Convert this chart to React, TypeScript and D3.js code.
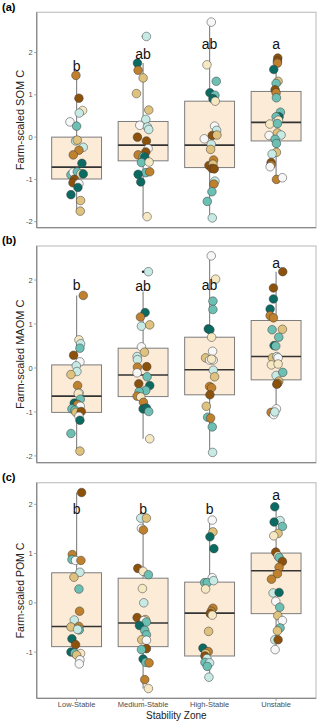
import * as d3 from 'd3'

const zones = ['Low-Stable', 'Medium-Stable', 'High-Stable', 'Unstable']
const letterFont = 'Liberation Sans, Arial, sans-serif'

// fill for each farm, BrBG-like
const palette = ['#8c510a', '#bf812d', '#dfc27d', '#f6e8c3', '#f7f7f7', '#c7eae5', '#6bbfb3', '#0b6b62']

// points: [value, jitter (category steps), colour index]
const somLow = [[1.46,-0.01,1],[0.92,0.035,0],[0.63,0.09,3],[0.57,0.04,5],[0.36,-0.1,4],[0.26,0,6],[-0.09,-0.015,5],[-0.07,0.01,2],[-0.24,0.1,5],[-0.31,0.035,1],[-0.42,-0.05,1],[-0.62,0.08,7],[-0.89,-0.085,6],[-0.83,-0.05,4],[-0.82,0.01,6],[-0.87,0.065,3],[-0.87,0.1,7],[-1.0,-0.035,0],[-1.08,-0.055,0],[-1.1,0.035,4],[-1.19,0.02,7],[-1.36,-0.085,7],[-1.5,0.06,2],[-1.75,0.055,2]]
const somMed = [[2.38,0.05,5],[1.75,-0.085,7],[1.58,-0.075,1],[1.4,0,2],[1.03,-0.1,2],[0.64,0.085,2],[0.42,0.04,5],[0.28,-0.05,4],[0.24,0.065,5],[0.18,0.085,5],[0.0,-0.085,0],[-0.09,0.05,0],[-0.27,0.075,4],[-0.35,0.04,0],[-0.42,-0.075,1],[-0.46,0,6],[-0.47,0.025,7],[-0.6,-0.025,6],[-0.59,0.09,3],[-0.84,0.04,6],[-0.82,0.1,1],[-0.88,-0.075,7],[-1.06,-0.035,7],[-1.88,0.06,3]]
const somHigh = [[2.72,0.025,4],[1.71,-0.04,3],[1.32,0.1,6],[1.05,0.005,7],[0.99,0.08,6],[0.91,0.05,7],[0.85,0.085,3],[0.26,0.075,4],[0.16,0.105,5],[-0.04,-0.08,4],[0.04,0.04,0],[0.05,0.11,2],[-0.17,0.025,5],[-0.29,0.015,2],[-0.54,0.06,1],[-0.67,-0.01,0],[-0.64,0.05,2],[-0.74,0.035,0],[-0.75,0.07,0],[-1.04,0.08,5],[-1.11,0.065,1],[-1.29,0.035,6],[-1.52,-0.035,6],[-1.91,0.04,5]]
const somUnst = [[1.87,0.025,0],[1.8,0.02,0],[1.75,0.02,1],[1.6,-0.035,7],[1.32,0.03,2],[1.27,0,6],[1.12,-0.015,0],[1.05,0,1],[0.93,0.005,6],[0.59,0.065,6],[0.48,0.045,7],[0.48,0,6],[0.36,0,5],[0.31,-0.095,3],[0.4,0.035,3],[0.32,0.02,6],[0.04,-0.105,4],[0.1,0.02,2],[0.05,0.075,5],[-0.05,-0.015,6],[-0.15,0.005,6],[-0.36,0.005,2],[-0.4,-0.06,5],[-0.6,-0.075,0],[-0.66,-0.075,1],[-0.7,-0.09,4],[-1.0,0.005,1],[-0.96,0.095,4]]
// [lower whisker, q1, median, q3, upper whisker]
const somBox = [[-1.75,-0.99,-0.71,0.0,1.46],[-1.88,-0.56,-0.19,0.37,1.75],[-1.91,-0.72,-0.19,0.85,2.72],[-1.0,-0.09,0.35,1.08,1.87]]
const somOutliers = [[1, 2.38]]
const somLetters = ['b', 'ab', 'ab', 'a']
const somLetterY = [1.69, 1.97, 2.19, 2.19]

const maomLow = [[1.65,0.1,1],[0.64,0.035,3],[0.55,0.06,5],[0.45,0.05,6],[0.29,-0.045,0],[0.14,0.05,4],[0.05,-0.005,5],[-0.08,0.005,5],[-0.15,-0.085,2],[-0.4,0.015,1],[-0.57,0.04,4],[-0.58,0.025,3],[-0.71,0.055,6],[-0.8,-0.035,7],[-0.83,0.015,1],[-0.87,0.055,4],[-0.93,-0.07,6],[-0.96,-0.025,6],[-1.01,-0.01,2],[-0.99,0.07,0],[-1.1,0.035,4],[-1.19,0.05,7],[-1.49,-0.085,6],[-1.89,0.05,2]]
const maomMed = [[2.19,0.08,5],[1.26,0.03,7],[1.16,-0.04,1],[0.95,-0.025,5],[0.98,0.1,2],[0.48,-0.025,4],[0.36,0.02,2],[0.26,-0.09,5],[0.19,-0.085,5],[0.02,-0.085,1],[0.03,0.055,0],[-0.11,-0.09,4],[-0.2,0.06,6],[-0.36,-0.065,0],[-0.4,0.1,7],[-0.51,0.04,6],[-0.54,-0.06,6],[-0.64,-0.09,1],[-0.66,-0.035,3],[-0.78,0.005,1],[-0.93,0,7],[-0.91,0.05,7],[-0.99,0.085,6],[-1.61,0.1,3]]
const maomHigh = [[2.55,0.025,4],[2.02,0.09,3],[1.52,0.05,6],[1.33,0.05,6],[0.89,-0.02,7],[0.87,0.005,7],[0.7,0.03,3],[0.38,0.045,4],[0.23,-0.06,2],[0.18,0,4],[0.18,0.055,4],[0.2,0.03,3],[-0.05,0.055,5],[-0.2,0.075,2],[-0.42,0,1],[-0.45,0.03,1],[-0.61,0.005,0],[-0.87,-0.05,2],[-1.12,-0.03,6],[-1.14,0.015,1],[-1.34,0.04,6],[-1.92,0.045,5]]
const maomUnst = [[2.19,0.1,0],[1.82,-0.04,0],[1.57,-0.04,7],[1.34,-0.09,7],[1.19,-0.09,1],[1.14,-0.04,1],[0.87,-0.06,6],[0.88,0.095,2],[0.7,0.04,6],[0.51,-0.03,7],[0.5,-0.005,6],[0.23,-0.055,2],[0.26,0.01,5],[0.23,0.03,4],[0.07,-0.07,3],[0.09,0.03,3],[-0.17,0,5],[-0.1,0.1,6],[-0.3,0.04,2],[-0.35,0.025,1],[-0.37,0.01,0],[-1.01,-0.075,1],[-0.93,0.005,4],[-1.06,-0.035,4],[-1.0,-0.02,5]]
const maomBox = [[-1.89,-1.01,-0.64,0.07,1.65],[-1.61,-0.65,-0.16,0.45,1.74],[-1.93,-0.61,-0.04,0.7,2.55],[-1.04,-0.27,0.26,1.08,2.19]]
const maomOutliers = [[1, 2.19]]
const maomLetters = ['b', 'ab', 'ab', 'a']
const maomLetterY = [1.88, 1.87, 1.88, 2.38]

const pomLow = [[2.24,0.075,0],[0.98,-0.065,1],[0.88,-0.07,6],[0.86,-0.015,4],[0.86,0.065,1],[0.62,0.05,5],[0.52,-0.04,2],[0.28,0.035,6],[-0.17,0.045,1],[-0.35,-0.035,5],[-0.49,-0.085,2],[-0.48,0.035,1],[-0.55,0.04,6],[-0.54,0.015,5],[-0.73,-0.07,7],[-0.85,-0.015,0],[-1.0,-0.085,7],[-1.02,-0.03,6],[-1.03,0.06,3],[-1.06,0,2],[-1.16,0.05,4],[-1.24,0.04,4]]
const pomMed = [[1.72,-0.035,5],[1.72,0.05,2],[1.51,-0.025,4],[1.48,0.005,1],[0.7,-0.08,0],[0.64,0,3],[0.57,0.08,6],[0.29,-0.01,3],[0.0,0.01,5],[-0.3,-0.09,0],[-0.34,0.035,2],[-0.36,0.01,4],[-0.39,0.05,6],[-0.46,-0.055,7],[-0.56,0.025,6],[-0.65,0.05,6],[-0.75,-0.02,2],[-0.76,0.05,4],[-0.93,0.05,0],[-0.95,-0.025,6],[-1.14,0,7],[-1.21,0.04,6],[-1.22,0.09,1],[-1.56,0.025,1],[-1.74,0.08,3]]
const pomHigh = [[1.68,0.04,4],[1.44,0.05,2],[1.34,0.005,7],[1.1,0.065,7],[0.51,0.04,4],[0.41,-0.075,6],[0.41,-0.035,6],[0.45,0.06,5],[0.28,-0.06,3],[-0.11,0.05,1],[-0.17,0.025,1],[-0.22,0.01,0],[-0.25,0.04,3],[-0.58,-0.015,2],[-0.92,-0.1,7],[-0.99,-0.02,1],[-1.03,-0.06,2],[-1.08,-0.07,0],[-1.13,-0.04,5],[-1.21,-0.07,6],[-1.22,0,5],[-1.29,-0.035,6],[-1.51,-0.01,5]]
const pomUnst = [[1.95,-0.02,7],[1.67,0.06,5],[1.64,-0.03,7],[1.55,0.095,6],[1.41,0.03,2],[1.36,-0.035,3],[1.03,-0.005,0],[0.95,0.03,3],[0.92,0.045,6],[0.84,0.095,0],[0.72,0.045,1],[0.59,0.02,1],[0.48,-0.07,1],[0.2,-0.045,5],[0.21,0.045,7],[0.03,-0.005,4],[-0.09,0.055,6],[-0.26,0.025,2],[-0.36,0.095,4],[-0.51,0.06,6],[-0.57,0.02,2],[-0.75,-0.02,5],[-0.75,0.03,0],[-0.95,-0.015,4]]
const pomBox = [[-1.24,-0.89,-0.48,0.61,2.24],[-1.74,-0.89,-0.41,0.5,1.72],[-1.51,-1.08,-0.21,0.42,1.68],[-0.95,-0.22,0.65,1.01,1.95]]
const pomOutliers: number[][] = []
const pomLetters = ['b', 'b', 'b', 'a']
const pomLetterY = [1.9, 1.9, 1.9, 2.19]

const left = 36.7, right = 316

const Panel = ({ tag, tagY, title, titleSize, top, bottom, groups, box, outliers, letters, letterY, xAxis }) => {
  const x = d3.scalePoint().domain(zones).range([left, right]).padding(0.6)
  const step = x.step()
  const all = groups.flat().map(d => d[0]).concat(box.flat())
  const [lo, hi] = d3.extent(all)
  const pad = (hi - lo) * 0.05
  const y = d3.scaleLinear().domain([lo - pad, hi + pad]).range([bottom, top])
  const ticks = d3.range(Math.ceil(lo - pad), Math.floor(hi + pad) + 1)
  const bw = step * 0.75
  const mid = (top + bottom) / 2

  return (
    <g>
      <text x={2} y={tagY} fontSize={11} fontWeight="bold" fontFamily={letterFont}>{tag}</text>
      <rect x={left} y={top} width={right - left} height={bottom - top} fill="none" stroke="#c8c8c8" strokeWidth={1.3} />
      <line x1={left} x2={left} y1={top} y2={bottom} stroke="#8a8a8a" strokeWidth={1.3} />
      <line x1={left} x2={right} y1={bottom} y2={bottom} stroke="#8a8a8a" strokeWidth={1.3} />
      {ticks.map(t => (
        <g key={t}>
          <line x1={left - 2.5} x2={left} y1={y(t)} y2={y(t)} stroke="#8a8a8a" strokeWidth={0.8} />
          <text x={left - 4} y={y(t)} dy="0.35em" textAnchor="end" fontSize={7.5} fill="#4d4d4d" fontFamily={letterFont}>{t}</text>
        </g>
      ))}
      <text transform={`translate(20.5,${mid}) rotate(-90)`} textAnchor="middle" dy="0.35em" fontSize={titleSize} fill="#222" fontFamily={letterFont}>{title}</text>
      {box.map((b, i) => {
        const cx = x(zones[i])
        return (
          <g key={i}>
            <line x1={cx} x2={cx} y1={y(b[0])} y2={y(b[4])} stroke="#8a8a8a" strokeWidth={1.2} />
            <rect x={cx - bw / 2} y={y(b[3])} width={bw} height={y(b[1]) - y(b[3])} fill="#fcebd6" stroke="#7d7d7d" strokeWidth={1} />
            <line x1={cx - bw / 2} x2={cx + bw / 2} y1={y(b[2])} y2={y(b[2])} stroke="#333" strokeWidth={1.6} />
          </g>
        )
      })}
      {outliers.map(([i, v], k) => (
        <circle key={k} cx={x(zones[i])} cy={y(v)} r={1.3} fill="#222" />
      ))}
      {groups.map((g, i) => g.map(([v, j, c], k) => (
        <circle key={i + '-' + k} cx={x(zones[i]) + j * step} cy={y(v)} r={4.3} fill={palette[c]} stroke="#3a3a3a" strokeWidth={0.5} />
      )))}
      {letters.map((l, i) => (
        <text key={i} x={x(zones[i])} y={y(letterY[i])} dy="0.35em" textAnchor="middle" fontSize={14} fill="#111" fontFamily={letterFont}>{l}</text>
      ))}
      {xAxis && zones.map(z => (
        <g key={z}>
          <line x1={x(z)} x2={x(z)} y1={bottom} y2={bottom + 2.5} stroke="#8a8a8a" strokeWidth={0.8} />
          <text x={x(z)} y={bottom + 6.3} dy="0.35em" textAnchor="middle" fontSize={7.5} fill="#4d4d4d" fontFamily={letterFont}>{z}</text>
        </g>
      ))}
      {xAxis && (
        <text x={(left + right) / 2} y={bottom + 16.8} dy="0.35em" textAnchor="middle" fontSize={10} fill="#222" fontFamily={letterFont}>Stability Zone</text>
      )}
    </g>
  )
}

export default function App() {
  return (
    <svg width={320} height={722} style={{ position: 'absolute', left: 0, top: 0, background: '#fff' }}>
      <Panel tag="(a)" tagY={10.5} title="Farm-scaled SOM C" titleSize={11} top={12.3} bottom={227.7}
        groups={[somLow, somMed, somHigh, somUnst]} box={somBox} outliers={somOutliers}
        letters={somLetters} letterY={somLetterY} xAxis={false} />
      <Panel tag="(b)" tagY={244} title="Farm-scaled MAOM C" titleSize={11} top={246} bottom={462.7}
        groups={[maomLow, maomMed, maomHigh, maomUnst]} box={maomBox} outliers={maomOutliers}
        letters={maomLetters} letterY={maomLetterY} xAxis={false} />
      <Panel tag="(c)" tagY={481} title="Farm-scaled POM C" titleSize={10.5} top={482.7} bottom={698.3}
        groups={[pomLow, pomMed, pomHigh, pomUnst]} box={pomBox} outliers={pomOutliers}
        letters={pomLetters} letterY={pomLetterY} xAxis={true} />
    </svg>
  )
}
